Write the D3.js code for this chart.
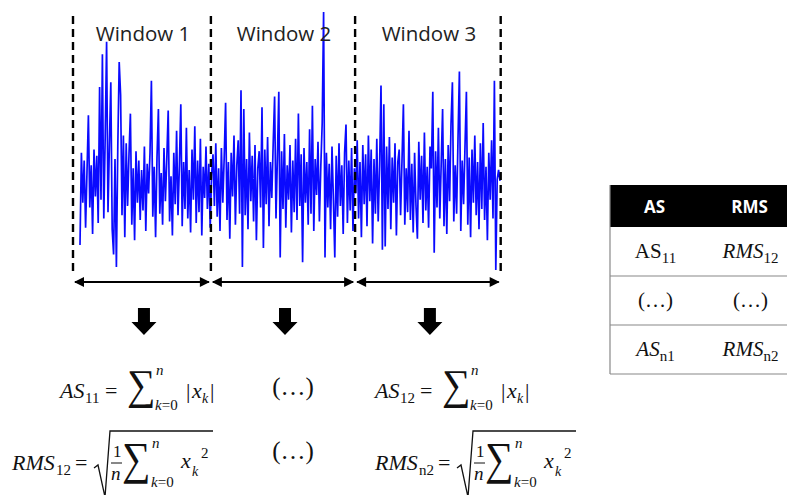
<!DOCTYPE html>
<html>
<head>
<meta charset="utf-8">
<script src="https://cdn.jsdelivr.net/npm/d3@7"></script>
<style>
  body { margin: 0; background: #fff; }
  svg { display: block; }
</style>
</head>
<body>
<svg width="787" height="495"></svg>
<script>
// window labels and the sample index where each dashed separator sits
var windowLabels = ["Window 1", "Window 2", "Window 3"];
var windowEdges = [-5, 93.5, 196.5, 300.5];

// vibration signal (arbitrary units, 0 = centre line)
var signal = [
  -3.9, 2.0, -1.2, 1.5, -2.8, 0.8, 4.4, -1.5, 1.2, -3.2, 2.2, -0.8, 1.8, -2.5, 6.2, -1.0, 8.3, -2.2, 3.0, 9.1,
  -1.8, 2.5, 6.5, -2.9, -4.5, 1.6, -5.3, 2.4, 7.8, 5.7, -2.0, 3.1, -3.4, 2.6, -1.4, 1.9, 4.5, -2.6, 1.0, -3.6,
  2.1, -1.2, 1.5, -2.3, 0.9, -1.7, 2.4, -3.0, 1.3, -0.6, 2.0, 6.6, -2.1, 1.1, -3.4, 1.7, 4.8, -1.9, 0.7, -2.6,
  2.3, -1.1, 1.6, 4.7, -2.4, 0.5, -3.3, 2.0, -1.3, 3.4, -2.0, 1.2, 5.1, -2.7, 1.4, -1.6, 3.6, -2.2, 0.9, -3.1,
  2.2, -1.0, 3.7, -2.5, 1.5, -1.8, 2.9, -3.3, 1.1, -0.9, 2.4, -1.6, 1.3, -2.8, 0.6, 1.9, -1.4, 2.6, -2.1, 1.0,
  -3.0, 2.3, -1.2, 1.7, 5.2, -2.3, 1.4, -3.5, 2.0, -0.8, 3.1, -2.6, 1.2, 2.8, -1.9, 6.0, -5.3, 4.8, -2.0, 1.6,
  -2.9, 3.3, -1.1, 1.8, -2.4, 2.5, -3.6, 1.0, 2.1, -1.5, 4.9, -4.1, 2.2, -1.3, 3.0, -2.7, 1.4, -0.9, 2.6, 5.6,
  -2.2, 1.7, 5.9, -4.7, 2.1, -1.6, 3.2, -2.8, 1.2, -1.0, 2.5, -3.1, 1.5, -1.8, 2.9, -2.3, 4.5, -1.4, 1.9, -5.0,
  2.3, -1.2, 1.4, -2.6, 3.5, -1.9, 5.0, -3.0, 1.6, -0.7, 2.7, -2.4, 1.1, 3.9, 11.0, -4.7, 2.0, -1.5, 1.3, -2.9,
  2.4, -1.0, -4.7, 1.8, -2.1, 2.6, -1.4, 1.2, -3.2, 2.0, 3.8, -2.5, 1.5, -1.7, 2.3, -3.0, 1.0, -0.6, 2.8, -2.2,
  1.4, -3.4, 2.5, -1.3, 1.9, -2.7, 3.1, -1.1, 2.2, -3.8, 1.6, -1.9, 2.9, -2.4, 1.2, 6.3, -4.2, 5.1, -4.0, 2.4,
  -1.6, 3.0, -2.9, 1.7, -1.2, 2.6, -3.3, 1.4, 2.2, -2.0, 1.5, 5.1, -2.6, 1.0, -1.8, 3.4, -2.3, 1.3, -3.1, 2.0,
  -1.4, -3.5, 2.7, -1.0, 1.8, -2.5, 3.3, -1.7, 1.1, -2.8, 2.4, 1.0, 5.9, -4.4, 2.1, -1.5, 3.6, -2.2, 1.3, 4.8,
  -2.7, 1.6, -3.2, 2.5, -1.1, 3.8, 6.5, -2.4, 1.2, -1.9, 2.9, 7.2, -3.0, 1.5, -1.3, 2.4, 5.9, -2.6, 1.7, -3.4,
  2.2, -1.2, 3.1, -2.0, 1.4, -2.9, 2.6, -1.6, 3.9, -2.3, 1.1, -3.6, 2.0, -1.0, 2.8, -2.2, 6.6, -5.5, 0.3, 0.9,
  0.2
];

// summary table
var tableHeader = ["AS", "RMS"];
var tableRows = [
  [{ main: "AS", sub: "11", italic: false }, { main: "RMS", sub: "12", italic: true }],
  [{ main: "(…)", sub: "", italic: false }, { main: "(…)", sub: "", italic: false }],
  [{ main: "AS", sub: "n1", italic: true }, { main: "RMS", sub: "n2", italic: true }]
];

var svg = d3.select("svg");
var serif = "'Liberation Serif', 'DejaVu Serif', serif";
var sans = "'Open Sans', 'DejaVu Sans', sans-serif";

var x = d3.scaleLinear().domain([0, signal.length - 1]).range([80, 500]);
var y = d3.scaleLinear().domain([-5.5, 11]).range([270, 12]);

// arrow heads for the window spans
var defs = svg.append("defs");
["start", "end"].forEach(function (k) {
    defs.append("marker")
        .attr("id", "head-" + k)
        .attr("markerUnits", "userSpaceOnUse")
        .attr("viewBox", "0 0 10 10")
        .attr("refX", k == "end" ? 9 : 1).attr("refY", 5)
        .attr("markerWidth", 11).attr("markerHeight", 10)
        .attr("orient", "auto")
        .append("path")
        .attr("d", k == "end" ? "M0,0L10,5L0,10Z" : "M10,0L0,5L10,10Z")
        .attr("fill", "#000");
});

// the signal
var line = d3.line()
    .x(function (d, i) { return x(i); })
    .y(function (d) { return y(d); });

svg.append("path")
    .datum(signal)
    .attr("d", line)
    .attr("fill", "none")
    .attr("stroke", "#0a0aff")
    .attr("stroke-width", 1.7)
    .attr("stroke-linejoin", "bevel");

// dashed window separators
svg.selectAll(".sep")
    .data(windowEdges)
    .enter().append("line")
    .attr("class", "sep")
    .attr("x1", function (d) { return x(d); })
    .attr("x2", function (d) { return x(d); })
    .attr("y1", 16).attr("y2", 273)
    .attr("stroke", "#000")
    .attr("stroke-width", 2.4)
    .attr("stroke-dasharray", "8,5");

var wins = windowLabels.map(function (lab, i) {
    return { label: lab, a: windowEdges[i], b: windowEdges[i + 1], mid: (windowEdges[i] + windowEdges[i + 1]) / 2 };
});

// window titles
svg.selectAll(".wlab")
    .data(wins)
    .enter().append("text")
    .attr("class", "wlab")
    .attr("x", function (d) { return x(d.mid) + 1; })
    .attr("y", 41)
    .attr("text-anchor", "middle")
    .style("font-family", sans)
    .style("font-size", "20.5px")
    .style("fill", "#222")
    .text(function (d) { return d.label; });

// double arrows under each window
svg.selectAll(".span")
    .data(wins)
    .enter().append("line")
    .attr("class", "span")
    .attr("x1", function (d) { return x(d.a) + 2; })
    .attr("x2", function (d) { return x(d.b) - 2; })
    .attr("y1", 282).attr("y2", 282)
    .attr("stroke", "#000")
    .attr("stroke-width", 2.2)
    .attr("marker-start", "url(#head-start)")
    .attr("marker-end", "url(#head-end)");

// block arrows pointing down
svg.selectAll(".down")
    .data(wins)
    .enter().append("path")
    .attr("class", "down")
    .attr("transform", function (d) { return "translate(" + (x(d.mid) + 2) + ",308)"; })
    .attr("d", "M-6,0H6V14H12.5L0,27L-12.5,14H-6Z")
    .attr("fill", "#000");

// formula helpers
function txt(g, tx, ty, size, str, italic, family) {
    return g.append("text")
        .attr("x", tx).attr("y", ty)
        .style("font-family", family || serif)
        .style("font-size", size + "px")
        .style("font-style", italic ? "italic" : "normal")
        .style("fill", "#111")
        .text(str);
}

// ink box of the summation glyph, so it can be fitted to the big-operator size
var sigFont = "40px 'Liberation Serif'";
var sigBox = (function () {
    var c = document.createElement("canvas").getContext("2d");
    c.font = sigFont;
    var m = c.measureText("∑");
    return { asc: m.actualBoundingBoxAscent, desc: m.actualBoundingBoxDescent,
             left: m.actualBoundingBoxLeft, right: m.actualBoundingBoxRight };
})();

function sigma(g, sx, top, bottom, w, lx, ny, ky) {
    var kx = w / (sigBox.left + sigBox.right),
        kyy = (bottom - top) / (sigBox.asc + sigBox.desc);
    g.append("g")
        .attr("transform", "translate(" + (sx + sigBox.left * kx) + "," + (bottom - sigBox.desc * kyy) + ") scale(" + kx + "," + kyy + ")")
        .append("text")
        .style("font-family", "'Liberation Serif', serif")
        .style("font-size", "40px")
        .style("fill", "#111")
        .text("∑");
    txt(g, lx + 1, ny, 15, "n", true);
    var lim = g.append("text").attr("x", lx).attr("y", ky)
        .style("font-family", serif).style("font-size", "15px").style("fill", "#111");
    lim.append("tspan").style("font-style", "italic").text("k");
    lim.append("tspan").text("=0");
}

function asFormula(x0, base, sub) {
    var g = svg.append("g").attr("transform", "translate(" + x0 + "," + base + ")");
    txt(g, 0, 0, 22, "AS", true);
    txt(g, 25, 5, 15, sub, false);
    txt(g, 45, 0, 22, "=", false);
    sigma(g, 68, -28, 10, 25, 95, -23, 12);
    txt(g, 126, 0, 22, "|", false);
    txt(g, 132, 0, 22, "x", true);
    txt(g, 142, 5, 14, "k", true);
    txt(g, 150, 0, 22, "|", false);
}

function rmsFormula(x0, base, sub) {
    var g = svg.append("g").attr("transform", "translate(" + x0 + "," + base + ")");
    txt(g, 0, 0, 22, "RMS", true);
    txt(g, 44, 5, 15, sub, false);
    txt(g, 63, 0, 22, "=", false);
    g.append("path")
        .attr("d", "M82,-2L86,-5L93,27L98,-39H201")
        .attr("fill", "none")
        .attr("stroke", "#111")
        .attr("stroke-width", 1.3);
    txt(g, 101, -13, 17, "1", false);
    g.append("line").attr("x1", 99).attr("x2", 110).attr("y1", -7).attr("y2", -7)
        .attr("stroke", "#111").attr("stroke-width", 1);
    txt(g, 99, 10, 19, "n", true);
    sigma(g, 111, -27, 14, 25, 139, -22, 17);
    txt(g, 169, -2, 22, "x", true);
    txt(g, 180, 6, 14, "k", true);
    txt(g, 189, -12, 15, "2", false);
}

function dots(cx, base) {
    svg.append("text").attr("x", cx).attr("y", base)
        .attr("text-anchor", "middle")
        .style("font-family", serif).style("font-size", "25px").style("fill", "#111")
        .text("(…)");
}

asFormula(60, 398, "11");
rmsFormula(12, 470, "12");
dots(293, 395);
dots(293, 459);
asFormula(375, 398, "12");
rmsFormula(375, 470, "n2");

// table
var col = d3.scaleBand().domain(tableHeader).range([608, 798]);
var tLeft = 610, tRight = 787, headTop = 185, headBottom = 227, rowH = 49;
var t = svg.append("g");

t.append("rect")
    .attr("x", tLeft).attr("y", headTop)
    .attr("width", tRight - tLeft).attr("height", headBottom - headTop)
    .attr("fill", "#000");

t.selectAll(".hd")
    .data(tableHeader)
    .enter().append("text")
    .attr("x", function (d) { return col(d) + col.bandwidth() / 2 - 1; })
    .attr("y", 213)
    .attr("text-anchor", "middle")
    .style("font-family", sans)
    .style("font-weight", "bold")
    .style("font-size", "17px")
    .style("fill", "#fff")
    .text(function (d) { return d; });

tableRows.forEach(function (row, r) {
    var top = headBottom + r * rowH;
    t.append("line")
        .attr("x1", tLeft).attr("x2", tRight)
        .attr("y1", top + rowH).attr("y2", top + rowH)
        .attr("stroke", "#888").attr("stroke-width", 1.2);
    row.forEach(function (cell, c) {
        var tx = t.append("text")
            .attr("x", col(tableHeader[c]) + col.bandwidth() / 2)
            .attr("y", top + 31)
            .attr("text-anchor", "middle")
            .style("font-family", serif)
            .style("font-size", "21px")
            .style("fill", "#111");
        tx.append("tspan").style("font-style", cell.italic ? "italic" : "normal").text(cell.main);
        if (cell.sub) {
            tx.append("tspan").attr("dy", 5).style("font-size", "15px").text(cell.sub);
        }
    });
});

t.append("line")
    .attr("x1", tLeft).attr("x2", tLeft)
    .attr("y1", headTop).attr("y2", headBottom + tableRows.length * rowH)
    .attr("stroke", "#888").attr("stroke-width", 1.2);
</script>
</body>
</html>
